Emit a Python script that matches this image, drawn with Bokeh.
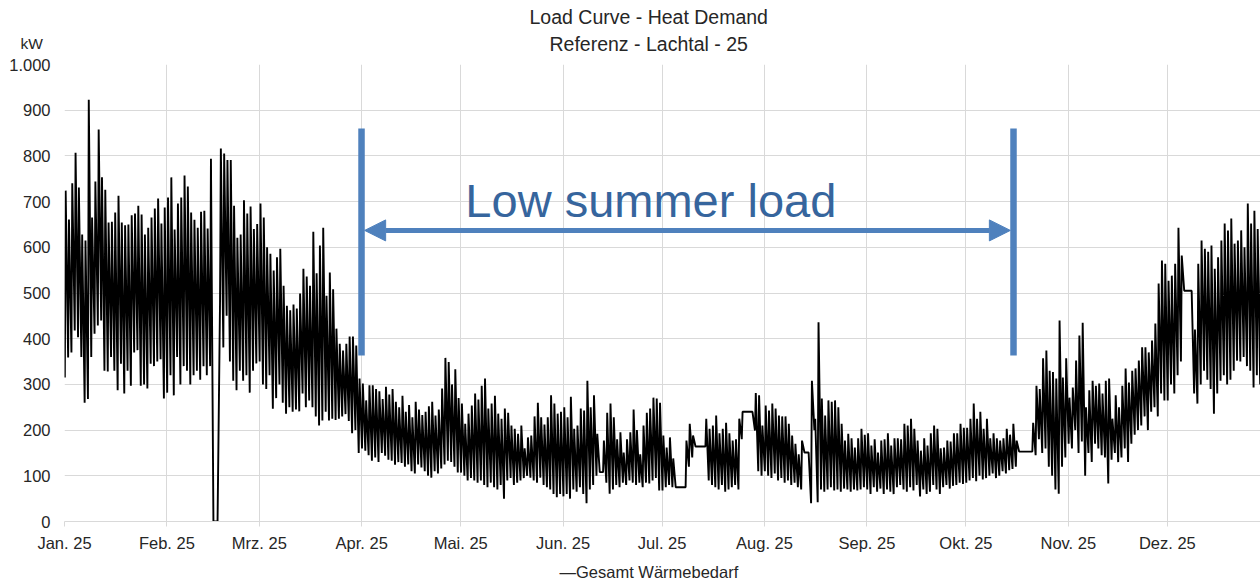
import numpy as np
from bokeh.plotting import figure
from bokeh.models import (FixedTicker, Label, Arrow, NormalHead, Range1d, Title)
from bokeh.embed import file_html
from bokeh.resources import INLINE

# ---------------- data (daily low / daily peak of the hourly heat demand, kW) ----------------
month_labels = ["Jan. 25", "Feb. 25", "Mrz. 25", "Apr. 25", "Mai. 25", "Jun. 25",
                "Jul. 25", "Aug. 25", "Sep. 25", "Okt. 25", "Nov. 25", "Dez. 25"]

jan_hi = [724, 661, 740, 807, 731, 628, 615, 923, 665, 744, 858, 753, 726, 654, 656, 676,
          713, 654, 648, 650, 670, 674, 691, 672, 628, 643, 665, 685, 707, 652, 687]
jan_lo = [315, 359, 370, 418, 403, 360, 260, 268, 360, 411, 429, 440, 330, 328, 360, 330,
          287, 345, 280, 330, 297, 370, 375, 297, 300, 291, 345, 340, 350, 355, 269]

feb_hi = [709, 753, 639, 696, 709, 757, 733, 676, 660, 643, 678, 680, 641, 794, 0, 0,
          816, 805, 791, 791, 691, 621, 628, 703, 674, 689, 640, 651]
feb_lo = [282, 320, 276, 360, 300, 340, 330, 300, 320, 330, 310, 340, 320, 340, 0, 0,
          480, 381, 450, 350, 308, 287, 330, 308, 320, 282, 330, 346]

mar_hi = [696, 665, 600, 586, 549, 578, 597, 516, 472, 462, 475, 466, 499, 553, 536, 516,
          634, 543, 604, 643, 494, 545, 508, 422, 389, 374, 389, 405, 405, 385, 313]
mar_lo = [350, 300, 290, 320, 247, 270, 300, 260, 236, 250, 240, 245, 241, 280, 250, 265,
          250, 230, 210, 221, 240, 221, 225, 222, 225, 230, 235, 220, 193, 200, 150]

apr_hi = [302, 265, 298, 298, 290, 285, 268, 295, 278, 290, 262, 250, 275, 240, 255, 228,
          262, 245, 233, 240, 252, 262, 232, 245, 291, 358, 349, 300, 333, 270]
apr_lo = [160, 155, 145, 133, 140, 130, 150, 144, 135, 133, 124, 130, 128, 120, 125, 110,
          105, 125, 118, 110, 100, 96, 110, 105, 116, 125, 133, 130, 120, 107]

mai_hi = [258, 214, 236, 254, 280, 267, 297, 313, 247, 258, 275, 236, 225, 247, 238, 210,
          203, 192, 210, 160, 184, 188, 230, 260, 228, 212, 228, 276, 258, 236, 240]
mai_lo = [107, 100, 90, 95, 90, 85, 90, 80, 75, 85, 75, 70, 80, 50, 90, 95,
          80, 85, 90, 95, 100, 96, 90, 85, 96, 80, 75, 70, 60, 53, 60]

jun_hi = [250, 228, 273, 203, 210, 247, 243, 308, 250, 276, 192, 108, 177, 238, 258, 228,
          180, 195, 151, 180, 195, 245, 200, 147, 210, 238, 247, 271, 269, 260]
jun_lo = [55, 60, 50, 70, 65, 75, 60, 40, 70, 80, 100, 108, 108, 85, 61, 70,
          80, 75, 85, 80, 90, 85, 80, 85, 75, 85, 83, 90, 95, 68]

jul_hi = [188, 162, 184, 138, 75, 75, 75, 177, 214, 188, 164, 164, 164, 225, 203, 210,
          232, 193, 203, 216, 193, 177, 180, 225, 240, 240, 240, 240, 281, 276, 210]
jul_lo = [68, 75, 80, 75, 75, 75, 75, 75, 120, 140, 164, 164, 164, 164, 90, 80,
          75, 70, 80, 65, 70, 75, 80, 70, 180, 240, 240, 240, 199, 110, 100]

aug_hi = [254, 243, 258, 247, 232, 230, 230, 214, 188, 170, 147, 177, 151, 151, 308, 225,
          436, 269, 232, 265, 262, 265, 250, 214, 177, 192, 182, 162, 182, 203, 190]
aug_lo = [110, 100, 95, 105, 90, 95, 85, 90, 80, 85, 75, 70, 151, 151, 40, 200,
          42, 70, 65, 70, 75, 68, 70, 65, 72, 70, 65, 70, 68, 70, 75]

sep_hi = [193, 166, 180, 151, 177, 180, 193, 166, 182, 182, 180, 214, 210, 225, 203, 177,
          155, 182, 166, 193, 210, 203, 160, 162, 177, 175, 193, 193, 214, 205]
sep_lo = [70, 60, 75, 65, 72, 60, 70, 65, 60, 75, 80, 70, 65, 75, 68, 80,
          55, 70, 60, 65, 80, 70, 60, 75, 80, 72, 78, 80, 85, 82]

okt_hi = [205, 225, 258, 225, 240, 203, 225, 182, 193, 182, 177, 182, 203, 190, 214, 177,
          153, 153, 153, 153, 216, 297, 290, 357, 374, 330, 327, 313, 440, 315, 357]
okt_lo = [85, 90, 95, 88, 100, 92, 95, 100, 105, 95, 100, 110, 105, 112, 115, 120,
          153, 153, 153, 153, 153, 145, 180, 150, 160, 120, 100, 70, 61, 120, 140]

nov_hi = [271, 293, 352, 407, 435, 250, 287, 308, 297, 302, 280, 308, 313, 225, 276, 250,
          297, 335, 304, 330, 335, 352, 381, 381, 370, 396, 433, 521, 571, 564]
nov_lo = [170, 160, 200, 150, 175, 100, 150, 130, 170, 160, 145, 140, 83, 135, 150, 130,
          140, 160, 130, 170, 190, 200, 210, 230, 200, 240, 250, 230, 280, 265]

dez_hi = [527, 538, 564, 643, 582, 505, 505, 505, 420, 564, 615, 597, 590, 604, 553, 578,
          615, 652, 637, 663, 608, 615, 637, 600, 696, 652, 680, 640, 660, 620, 650]
dez_lo = [265, 300, 280, 320, 350, 505, 505, 505, 280, 258, 300, 330, 310, 290, 236, 280,
          308, 320, 300, 310, 330, 352, 350, 360, 340, 330, 293, 320, 300, 310, 320]

y_ticks = [0, 100, 200, 300, 400, 500, 600, 700, 800, 900, 1000]
y_tick_labels = ["0", "100", "200", "300", "400", "500", "600", "700", "800", "900", "1.000"]

title_line1 = "Load Curve - Heat Demand"
title_line2 = "Referenz - Lachtal - 25"
unit_label = "kW"
series_name = "Gesamt Wärmebedarf"
note_text = "Low summer load"
# annotation (drawn shapes): summer window in day-of-year, heights in kW
note_day_start, note_day_end = 89.95, 287.4
note_bar_bottom, note_bar_top = 363, 860
note_arrow_level = 637
note_text_day, note_text_level = 121.4, 702

# ---------------- build series ----------------
hi_months = [jan_hi, feb_hi, mar_hi, apr_hi, mai_hi, jun_hi, jul_hi, aug_hi, sep_hi, okt_hi, nov_hi, dez_hi]
lo_months = [jan_lo, feb_lo, mar_lo, apr_lo, mai_lo, jun_lo, jul_lo, aug_lo, sep_lo, okt_lo, nov_lo, dez_lo]
month_len = [len(m) for m in hi_months]
month_start = [int(v) for v in np.concatenate([[0], np.cumsum(month_len)[:-1]])]

day_hi = np.concatenate(hi_months).astype(float)
day_lo = np.concatenate(lo_months).astype(float)
n = len(day_hi)
days = np.arange(n)
xs = np.empty(2 * n)
ys = np.empty(2 * n)
xs[0::2] = days + 0.10
ys[0::2] = day_lo
xs[1::2] = days + 0.35
ys[1::2] = day_hi

FONT = "Liberation Sans"
TXT = "#262626"
GRID = "#d9d9d9"
BLUE = "#4f81bd"

p = figure(width=1260, height=584, output_backend="svg", toolbar_location=None,
           x_range=Range1d(0, 362.2), y_range=Range1d(0, 1000),
           min_border_left=64, min_border_right=0, min_border_top=64, min_border_bottom=63)
p.outline_line_color = None

r = p.line(xs, ys, line_color="black", line_width=1.9)

xt = FixedTicker(ticks=month_start)
p.xaxis.ticker = xt
p.xgrid.ticker = xt
p.xaxis.major_label_overrides = {s: lab for s, lab in zip(month_start, month_labels)}
p.xaxis.axis_line_color = GRID
p.xaxis.major_tick_line_color = GRID
p.xaxis.major_tick_out = 5
p.xaxis.major_tick_in = 0
p.xaxis.minor_tick_line_color = None
p.xaxis.major_label_standoff = 7
p.xaxis.major_label_text_font = FONT
p.xaxis.major_label_text_font_size = "16.5px"
p.xaxis.major_label_text_color = TXT

yt = FixedTicker(ticks=y_ticks)
p.yaxis.ticker = yt
p.ygrid.ticker = yt
p.yaxis.major_label_overrides = {t: lab for t, lab in zip(y_ticks, y_tick_labels)}
p.yaxis.axis_line_color = None
p.yaxis.major_tick_line_color = None
p.yaxis.minor_tick_line_color = None
p.yaxis.major_tick_out = 0
p.yaxis.major_tick_in = 0
p.yaxis.major_label_standoff = 14
p.yaxis.major_label_text_font = FONT
p.yaxis.major_label_text_font_size = "16.5px"
p.yaxis.major_label_text_color = TXT

p.xgrid.grid_line_color = GRID
p.ygrid.grid_line_color = GRID

# ---------------- texts outside the plot area (stacked rows, nearest to the frame first) ----------------
def add_row(text, size, standoff, side="above", offset=0, valign="middle"):
    p.add_layout(Title(text=text, text_font=FONT, text_font_size=size, text_font_style="normal",
                       text_color=TXT, align="left", offset=offset, vertical_align=valign,
                       standoff=standoff), side)

add_row(" ", "9px", 7.9)                        # spacer (frame top -> second title line)
add_row(title_line2, "19.5px", -23.5, offset=485)
add_row(unit_label, "15.5px", -19.0, offset=-44)
add_row(" ", "9px", 13.9)                       # spacer (second -> first title line)
add_row(title_line1, "19.5px", -23.5, offset=465)

# series key below the axis
add_row(" ", "9px", 5.0, side="below")          # spacer (axis labels -> key)
add_row("\u2014" + series_name, "16.5px", -20.0, side="below", offset=495)

# ---------------- summer annotation ----------------
p.segment(x0=[note_day_start, note_day_end], y0=[note_bar_bottom, note_bar_bottom],
          x1=[note_day_start, note_day_end], y1=[note_bar_top, note_bar_top],
          line_color=BLUE, line_width=6.5, line_cap="butt")
p.add_layout(Arrow(start=NormalHead(size=21, fill_color=BLUE, line_color=BLUE),
                   end=NormalHead(size=21, fill_color=BLUE, line_color=BLUE),
                   x_start=note_day_start + 0.95, y_start=note_arrow_level,
                   x_end=note_day_end - 0.95, y_end=note_arrow_level,
                   line_color=BLUE, line_width=5))
p.add_layout(Label(x=note_text_day, y=note_text_level, text=note_text, text_align="left",
                   text_baseline="alphabetic", text_font=FONT, text_font_size="47px",
                   text_color="#36659d"))

open("out.html", "w").write(file_html(p, INLINE))
